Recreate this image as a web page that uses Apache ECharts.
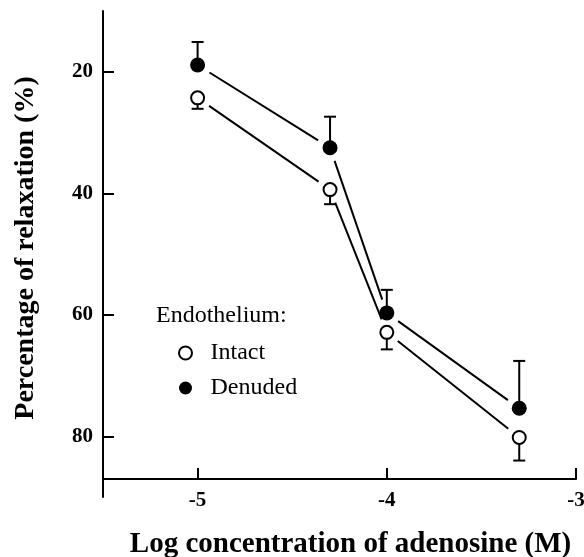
<!DOCTYPE html>
<html>
<head>
<meta charset="utf-8">
<script src="https://cdn.jsdelivr.net/npm/echarts@6/dist/echarts.min.js"></script>
<style>html,body{margin:0;padding:0;background:#fff;}#chart{width:584px;height:557px;}</style>
</head>
<body>
<div id="chart"></div>
<script>
// Data
var xValues = [-5, -4.3, -4, -3.3];
var intactMean = [24.3, 39.4, 62.9, 80.2];
var intactErr = [1.8, 2.4, 2.8, 3.8];
var denudedMean = [18.9, 32.5, 59.7, 75.4];
var denudedErr = [3.8, 5.1, 3.8, 7.8];
var xTicks = [-5, -4, -3];
var yTicks = [20, 40, 60, 80];

var FONT = "'Liberation Serif', 'Times New Roman', serif";

function pts(ys) { return xValues.map(function (x, i) { return [x, ys[i]]; }); }
function segs(ys) {
  var out = [];
  for (var i = 0; i < xValues.length - 1; i++) out.push([xValues[i], ys[i], xValues[i + 1], ys[i + 1]]);
  return out;
}
function errs(ys, es, dir) { return xValues.map(function (x, i) { return [x, ys[i], es[i], dir]; }); }

function renderSeg(params, api) {
  var a = api.coord([api.value(0), api.value(1)]);
  var b = api.coord([api.value(2), api.value(3)]);
  var dx = b[0] - a[0], dy = b[1] - a[1];
  var len = Math.sqrt(dx * dx + dy * dy);
  var gap = 14;
  var ux = dx / len, uy = dy / len;
  return {
    type: 'line',
    shape: { x1: a[0] + ux * gap, y1: a[1] + uy * gap, x2: b[0] - ux * gap, y2: b[1] - uy * gap },
    style: { stroke: '#000', lineWidth: 2 }
  };
}
function renderErr(params, api) {
  var x = api.value(0), m = api.value(1), e = api.value(2), d = api.value(3);
  var p = api.coord([x, m]);
  var q = api.coord([x, m + d * e]);
  return {
    type: 'group',
    children: [
      { type: 'line', shape: { x1: p[0], y1: p[1], x2: q[0], y2: q[1] }, style: { stroke: '#000', lineWidth: 2 } },
      { type: 'line', shape: { x1: q[0] - 6, y1: q[1], x2: q[0] + 6, y2: q[1] }, style: { stroke: '#000', lineWidth: 2 } }
    ]
  };
}

var chart = echarts.init(document.getElementById('chart'));
chart.setOption({
  animation: false,
  backgroundColor: '#fff',
  title: {
    text: 'Endothelium:',
    left: 156, top: 304, padding: 0,
    textStyle: { fontFamily: FONT, fontSize: 24, fontWeight: 'normal', color: '#000' }
  },
  legend: {
    orient: 'vertical',
    left: 178, top: 341,
    itemWidth: 40, itemHeight: 13, itemGap: 11,
    padding: 0,
    textStyle: { fontFamily: FONT, fontSize: 24, color: '#000' },
    data: [
      { name: 'Intact', icon: 'circle', itemStyle: { color: '#fff', borderColor: '#000', borderWidth: 2 } },
      { name: 'Denuded', icon: 'circle', itemStyle: { color: '#000', borderWidth: 0 } }
    ]
  },
  grid: { left: 103, right: 8, top: 11, bottom: 60, containLabel: false, outerBoundsMode: 'none' },
  xAxis: {
    type: 'value', min: -5.5, max: -3, offset: -18,
    name: 'Log concentration of adenosine (M)',
    nameLocation: 'middle', nameGap: 51,
    nameTextStyle: { fontFamily: FONT, fontSize: 29, fontWeight: 'bold', color: '#000', padding: [0, 0, 0, 22] },
    axisLine: { onZero: false, lineStyle: { color: '#000', width: 2 } },
    axisTick: { inside: true, length: 11, lineStyle: { color: '#000', width: 2 }, customValues: xTicks },
    axisLabel: { customValues: xTicks, margin: 11, fontFamily: FONT, fontSize: 21, fontWeight: 'bold', color: '#000' },
    splitLine: { show: false }
  },
  yAxis: {
    type: 'value', min: 10, max: 90, inverse: true,
    name: 'Percentage of relaxation (%)',
    nameLocation: 'middle', nameGap: 63, nameRotate: 90,
    nameTextStyle: { fontFamily: FONT, fontSize: 28, fontWeight: 'bold', color: '#000', padding: [0, 0, 0, 12] },
    axisLine: { onZero: false, lineStyle: { color: '#000', width: 2 } },
    axisTick: { inside: true, length: 11, lineStyle: { color: '#000', width: 2 }, customValues: yTicks },
    axisLabel: { customValues: yTicks, margin: 10, fontFamily: FONT, fontSize: 21, fontWeight: 'bold', color: '#000' },
    splitLine: { show: false }
  },
  series: [
    { name: 'intactLine', type: 'custom', renderItem: renderSeg, data: segs(intactMean), z: 1, silent: true },
    { name: 'denudedLine', type: 'custom', renderItem: renderSeg, data: segs(denudedMean), z: 1, silent: true },
    { name: 'intactErr', type: 'custom', renderItem: renderErr, data: errs(intactMean, intactErr, 1), z: 2, silent: true },
    { name: 'denudedErr', type: 'custom', renderItem: renderErr, data: errs(denudedMean, denudedErr, -1), z: 2, silent: true },
    { name: 'Intact', type: 'scatter', symbol: 'circle', symbolSize: 13, data: pts(intactMean), z: 3,
      itemStyle: { color: '#fff', borderColor: '#000', borderWidth: 2, opacity: 1 } },
    { name: 'Denuded', type: 'scatter', symbol: 'circle', symbolSize: 15, data: pts(denudedMean), z: 3,
      itemStyle: { color: '#000', opacity: 1 } }
  ]
});
</script>
</body>
</html>
